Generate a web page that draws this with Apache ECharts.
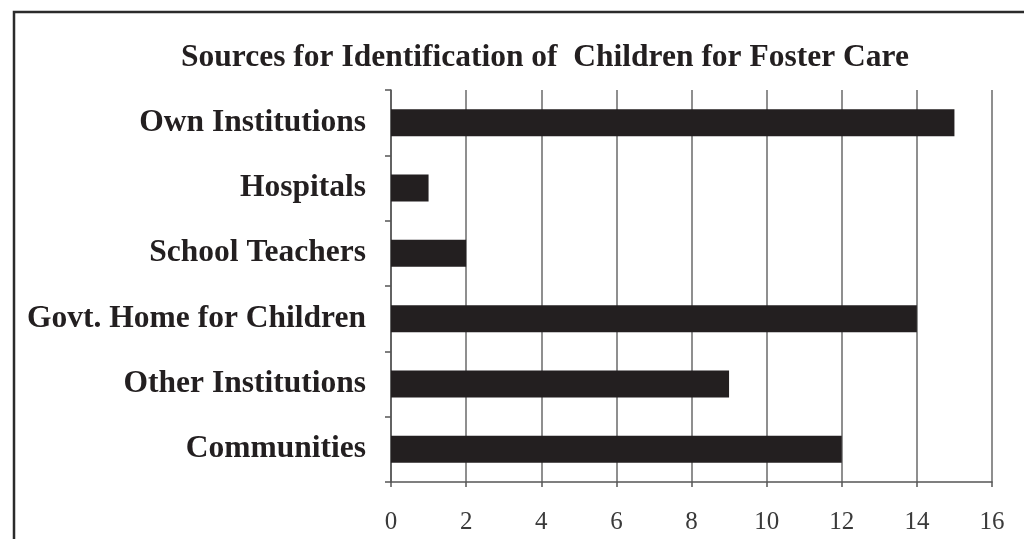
<!DOCTYPE html>
<html>
<head>
<meta charset="utf-8">
<script src="https://cdn.jsdelivr.net/npm/echarts@6/dist/echarts.min.js"></script>
<style>
html,body{margin:0;padding:0;background:#fff;}
#chart{width:1024px;height:539px;}
</style>
</head>
<body>
<div id="chart"></div>
<script>
var titleText = "Sources for Identification of  Children for Foster Care";
var categories = ["Own Institutions", "Hospitals", "School Teachers", "Govt. Home for Children", "Other Institutions", "Communities"];
var values = [15, 1, 2, 14, 9, 12];
var xTicks = [0, 2, 4, 6, 8, 10, 12, 14, 16];

var chart = echarts.init(document.getElementById('chart'));
var serif = '"Liberation Serif", "Times New Roman", serif';
chart.setOption({
  backgroundColor: '#ffffff',
  animation: false,
  title: {
    text: titleText,
    left: 540,
    textAlign: 'center',
    top: 37,
    textStyle: {fontFamily: serif, fontWeight: 'bold', fontSize: 31.5, color: '#231f20'}
  },
  graphic: [{
    type: 'rect',
    shape: {x: 14, y: 12, width: 1100, height: 700},
    style: {fill: 'none', stroke: '#2b2b2b', lineWidth: 2.5},
    silent: true, z: 100
  }],
  grid: {left: 391, right: 32, top: 90, bottom: 57, containLabel: false},
  xAxis: {
    type: 'value',
    min: xTicks[0],
    max: xTicks[xTicks.length - 1],
    interval: 2,
    axisLine: {show: true, lineStyle: {color: '#555', width: 1.5}},
    axisTick: {show: true, length: 5, lineStyle: {color: '#555', width: 1.5}},
    splitLine: {show: true, lineStyle: {color: '#6a6a6a', width: 1.5}},
    axisLabel: {margin: 28, fontFamily: serif, fontSize: 25, color: '#3a3a3a',
      formatter: function (v) { return xTicks.indexOf(v) >= 0 ? String(v) : ''; }}
  },
  yAxis: {
    type: 'category',
    data: categories,
    inverse: true,
    axisLine: {show: true, lineStyle: {color: '#555', width: 1.5}},
    axisTick: {show: true, length: 6, lineStyle: {color: '#555', width: 1.5}},
    splitLine: {show: false},
    axisLabel: {margin: 25, fontFamily: serif, fontWeight: 'bold', fontSize: 31.5, color: '#231f20'}
  },
  series: [{
    type: 'bar',
    data: values,
    barWidth: 27,
    itemStyle: {color: '#231f20'}
  }]
});
</script>
</body>
</html>
